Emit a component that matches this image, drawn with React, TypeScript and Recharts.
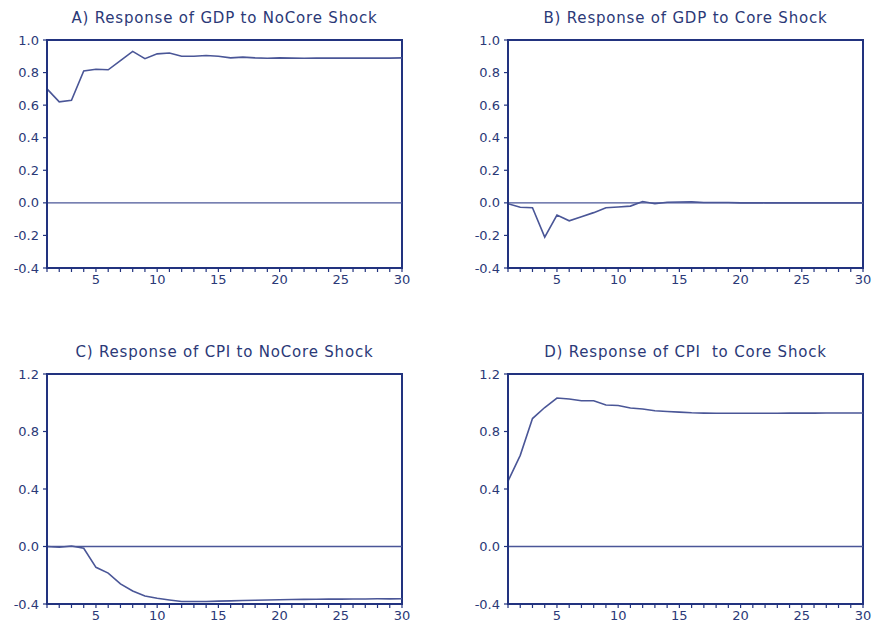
import { LineChart, Line, XAxis, YAxis, ReferenceLine, ReferenceArea } from 'recharts';

const periods = [1, 2, 3, 4, 5, 6, 7, 8, 9, 10, 11, 12, 13, 14, 15, 16, 17, 18, 19, 20, 21, 22, 23, 24, 25, 26, 27, 28, 29, 30];

const gdpNoCore = [0.70, 0.62, 0.63, 0.81, 0.82, 0.817, 0.874, 0.93, 0.885, 0.915, 0.92, 0.90, 0.90, 0.905, 0.90, 0.89, 0.895, 0.89, 0.888, 0.89, 0.889, 0.888, 0.889, 0.889, 0.889, 0.889, 0.889, 0.889, 0.889, 0.89];
const gdpCore = [-0.005, -0.027, -0.03, -0.21, -0.075, -0.11, -0.085, -0.06, -0.03, -0.025, -0.02, 0.008, -0.005, 0.004, 0.005, 0.006, 0.002, 0.002, 0.002, 0.0, 0.001, 0.0, 0.0, 0.0, 0.0, 0.0, 0.0, 0.0, 0.0, 0.0];
const cpiNoCore = [0.0, -0.005, 0.003, -0.012, -0.145, -0.185, -0.26, -0.31, -0.345, -0.36, -0.372, -0.383, -0.383, -0.383, -0.38, -0.378, -0.376, -0.374, -0.372, -0.37, -0.369, -0.368, -0.367, -0.366, -0.366, -0.365, -0.365, -0.364, -0.364, -0.363];
const cpiCore = [0.455, 0.634, 0.89, 0.967, 1.033, 1.026, 1.014, 1.014, 0.984, 0.981, 0.963, 0.956, 0.944, 0.939, 0.935, 0.93, 0.928, 0.927, 0.927, 0.927, 0.927, 0.927, 0.927, 0.928, 0.928, 0.928, 0.929, 0.929, 0.929, 0.929];

const gdpTicks = [-0.4, -0.2, 0.0, 0.2, 0.4, 0.6, 0.8, 1.0];
const cpiTicks = [-0.4, 0.0, 0.4, 0.8, 1.2];
const xLabels = [5, 10, 15, 20, 25, 30];

const FRAME = '#22337f';
const LINE = '#4a5697';
const TEXT = '#2b3977';
const FONT = '"DejaVu Sans", Verdana, sans-serif';

interface PanelProps {
  title: string;
  values: number[];
  yTicks: number[];
  left: number;
  top: number;
  width: number;
  height: number;
  yWidth: number;
  marginTop: number;
  marginRight: number;
  xHeight: number;
}

function Panel({ title, values, yTicks, left, top, width, height, yWidth, marginTop, marginRight, xHeight }: PanelProps) {
  const data = periods.map((p, i) => ({ period: p, value: values[i] }));
  const yMin = yTicks[0];
  const yMax = yTicks[yTicks.length - 1];
  const plotLeft = yWidth;
  const plotRight = width - marginRight;
  return (
    <div style={{ position: 'absolute', left, top, width, height }}>
      <div
        style={{
          position: 'absolute',
          left: plotLeft,
          width: plotRight - plotLeft,
          top: marginTop - 31,
          textAlign: 'center',
          fontFamily: FONT,
          fontSize: 15,
          letterSpacing: 0.8,
          color: TEXT,
          whiteSpace: 'pre',
        }}
      >
        {title}
      </div>
      <LineChart width={width} height={height} data={data} margin={{ top: marginTop, right: marginRight, bottom: 0, left: 0 }}>
        <XAxis
          dataKey="period"
          type="number"
          domain={[1, 30]}
          ticks={periods}
          interval={0}
          tickFormatter={(v: number) => (xLabels.includes(v) ? String(v) : '')}
          height={xHeight}
          tickSize={4}
          tickMargin={3}
          axisLine={{ stroke: FRAME, strokeWidth: 2 }}
          tickLine={{ stroke: FRAME, strokeWidth: 1.2 }}
          tick={{ fill: TEXT, fontSize: 13, fontFamily: FONT }}
        />
        <YAxis
          type="number"
          domain={[yMin, yMax]}
          ticks={yTicks}
          interval={0}
          width={yWidth}
          tickFormatter={(v: number) => v.toFixed(1)}
          tickSize={4}
          tickMargin={4}
          axisLine={{ stroke: FRAME, strokeWidth: 2 }}
          tickLine={{ stroke: FRAME, strokeWidth: 1.2 }}
          tick={{ fill: TEXT, fontSize: 13, fontFamily: FONT }}
        />
        <ReferenceArea x1={1} x2={30} y1={yMin} y2={yMax} fill="none" stroke={FRAME} strokeWidth={2} ifOverflow="visible" />
        <ReferenceLine y={0} stroke={LINE} strokeWidth={1.3} />
        <Line type="linear" dataKey="value" stroke={LINE} strokeWidth={1.6} dot={false} isAnimationActive={false} />
      </LineChart>
    </div>
  );
}

export default function App() {
  return (
    <div style={{ position: 'fixed', left: 0, top: 0, width: 875, height: 628, background: '#fff' }}>
      <Panel title="A) Response of GDP to NoCore Shock" values={gdpNoCore} yTicks={gdpTicks}
        left={0} top={0} width={420} height={290} yWidth={47} marginTop={40} marginRight={18} xHeight={22} />
      <Panel title="B) Response of GDP to Core Shock" values={gdpCore} yTicks={gdpTicks}
        left={440} top={0} width={435} height={290} yWidth={68} marginTop={40} marginRight={12} xHeight={22} />
      <Panel title="C) Response of CPI to NoCore Shock" values={cpiNoCore} yTicks={cpiTicks}
        left={0} top={330} width={420} height={298} yWidth={47} marginTop={44} marginRight={12 + 6} xHeight={24} />
      <Panel title="D) Response of CPI  to Core Shock" values={cpiCore} yTicks={cpiTicks}
        left={440} top={330} width={435} height={298} yWidth={68} marginTop={44} marginRight={12} xHeight={24} />
    </div>
  );
}
